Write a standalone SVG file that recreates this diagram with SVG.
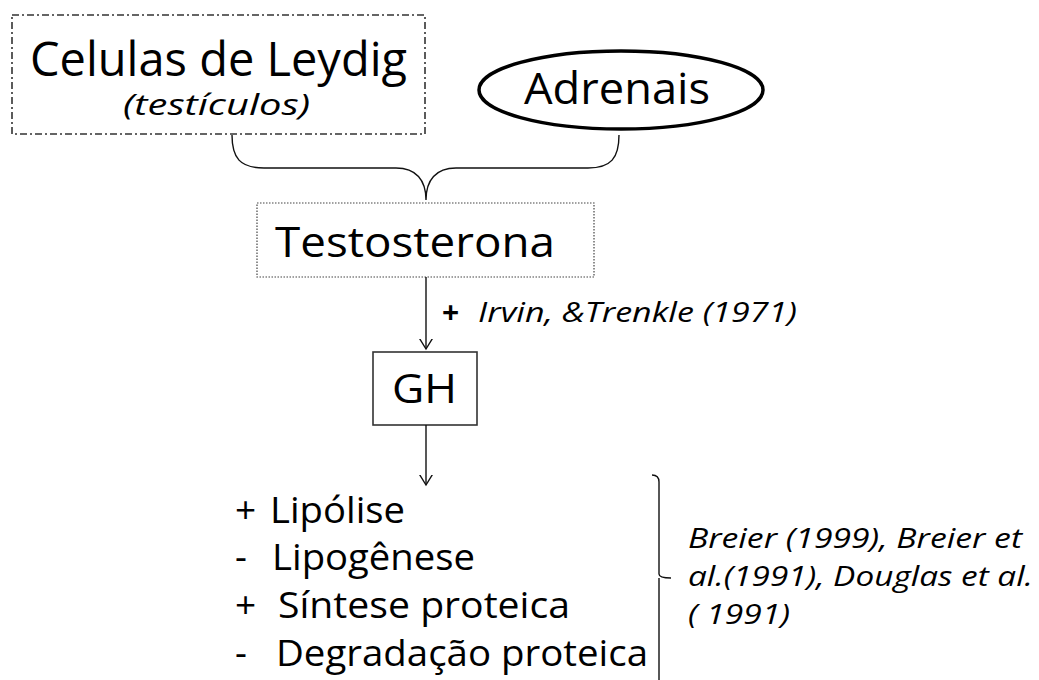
<svg xmlns="http://www.w3.org/2000/svg" width="1039" height="680" viewBox="0 0 1039 680">
<defs>
<style>
text{font-family:"Open Sans","Noto Sans","DejaVu Sans",sans-serif;fill:#000}
.it{font-style:italic}
.ln{fill:none;stroke:#111;stroke-width:1.4}
</style>
<marker id="ah" viewBox="0 0 20 20" refX="10" refY="10" markerWidth="20" markerHeight="20" markerUnits="userSpaceOnUse" orient="auto">
<path d="M-3,2 L10,10 L-3,18" fill="none" stroke="#111" stroke-width="1.4"/>
</marker>
</defs>
<rect width="1039" height="680" fill="#fff"/>
<g id="leydig">
<rect x="12" y="15" width="413" height="119" fill="none" stroke="#333" stroke-width="1.6" stroke-dasharray="7 3 2 3"/>
<text x="30" y="76" font-size="47" textLength="377" lengthAdjust="spacingAndGlyphs">Celulas de Leydig</text>
<text class="it" x="123" y="115" font-size="29" textLength="187" lengthAdjust="spacingAndGlyphs">(testículos)</text>
</g>
<g id="adrenais">
<ellipse cx="621" cy="90" rx="142" ry="39" fill="none" stroke="#000" stroke-width="3.5"/>
<text x="524" y="104" font-size="44" textLength="186" lengthAdjust="spacingAndGlyphs">Adrenais</text>
</g>
<g id="testosterona">
<rect x="257" y="203" width="337" height="74" fill="none" stroke="#444" stroke-width="1.2" stroke-dasharray="1.5 1.5"/>
<text x="275" y="257" font-size="42" textLength="280" lengthAdjust="spacingAndGlyphs">Testosterona</text>
</g>
<g id="gh">
<rect x="373" y="352" width="104" height="73" fill="none" stroke="#333" stroke-width="1.6"/>
<text x="392" y="403" font-size="40" textLength="65" lengthAdjust="spacingAndGlyphs">GH</text>
</g>
<g id="effects">
<text font-size="37" y="523"><tspan x="235">+</tspan><tspan x="270" textLength="135" lengthAdjust="spacingAndGlyphs">Lipólise</tspan></text>
<text font-size="37" y="570"><tspan x="235">-</tspan><tspan x="272" textLength="203" lengthAdjust="spacingAndGlyphs">Lipogênese</tspan></text>
<text font-size="37" y="618"><tspan x="235">+</tspan><tspan x="278" textLength="292" lengthAdjust="spacingAndGlyphs">Síntese proteica</tspan></text>
<text font-size="37" y="666"><tspan x="235">-</tspan><tspan x="276" textLength="372" lengthAdjust="spacingAndGlyphs">Degradação proteica</tspan></text>
</g>
<g id="refs">
<text class="it" font-size="27" x="688" y="548" textLength="334" lengthAdjust="spacingAndGlyphs">Breier (1999), Breier et</text>
<text class="it" font-size="27" x="688" y="586" textLength="345" lengthAdjust="spacingAndGlyphs">al.(1991), Douglas et al.</text>
<text class="it" font-size="27" x="688" y="624" textLength="102" lengthAdjust="spacingAndGlyphs">( 1991)</text>
</g>
<g id="connectors">
<path class="ln" d="M232,135 C232,158 240,168 264,168 L396,168 C416,168 426,180 426,200 C426,180 436,168 456,168 L588,168 C611,168 619,158 619,135"/>
<line class="ln" x1="426" y1="277" x2="426" y2="349" marker-end="url(#ah)"/>
<text x="442" y="323" font-size="30" font-weight="bold">+</text>
<text class="it" x="478" y="322" font-size="27" textLength="319" lengthAdjust="spacingAndGlyphs">Irvin, &amp;Trenkle (1971)</text>
<line class="ln" x1="426" y1="425" x2="426" y2="485" marker-end="url(#ah)"/>
<path class="ln" d="M652,475 Q659,475 659,482 L659,574 Q659,578 671,578 M659,578 L659,690"/>
</g>
</svg>
